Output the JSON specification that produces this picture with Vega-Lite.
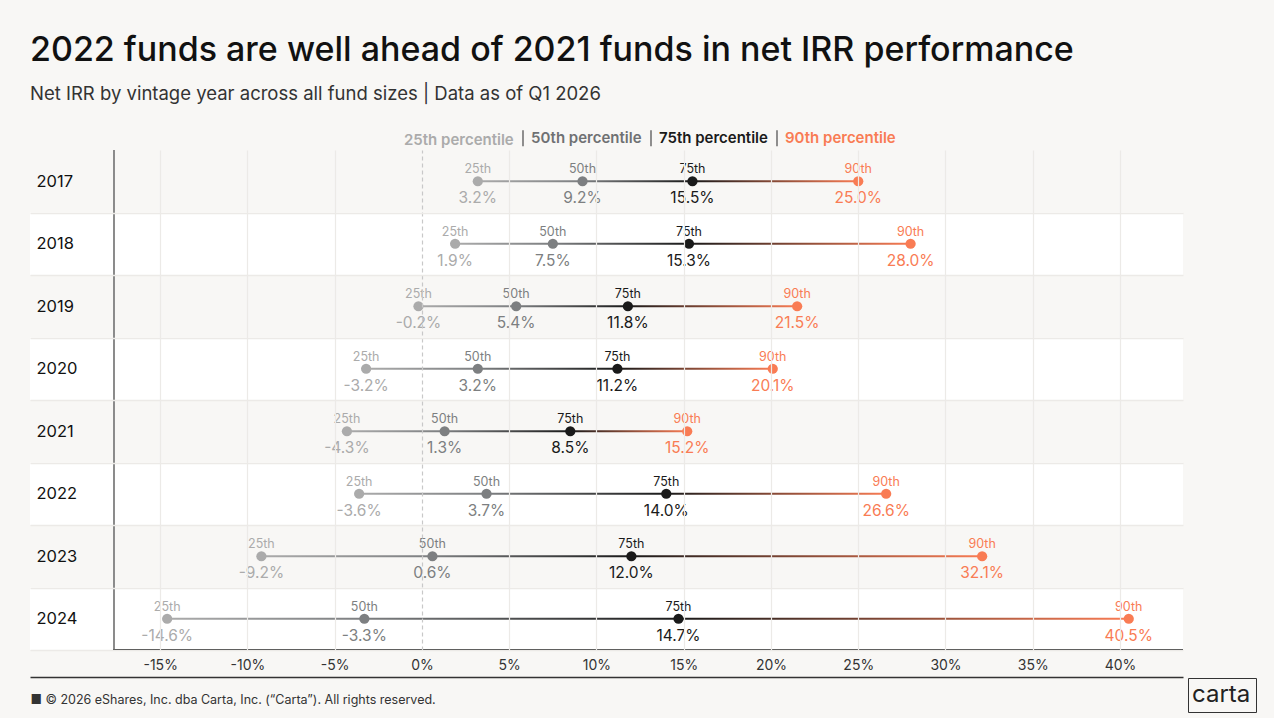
{
  "$schema": "https://vega.github.io/schema/vega-lite/v6.json",
  "autosize": "none",
  "width": 1153,
  "height": 500,
  "padding": {"left": 30, "top": 150, "right": 91, "bottom": 68},
  "background": "#f8f7f5",
  "title": {
    "text": "2022 funds are well ahead of 2021 funds in net IRR performance",
    "subtitle": "Net IRR by vintage year across all fund sizes | Data as of Q1 2026",
    "anchor": "start",
    "frame": "group",
    "font": "Inter",
    "fontSize": 34,
    "fontWeight": 500,
    "color": "#111111",
    "subtitleFont": "Inter",
    "subtitleFontSize": 18.5,
    "subtitleColor": "#333333",
    "subtitlePadding": 17,
    "offset": 26
  },
  "data": {
    "values": [
      {"year": "2017", "pct": "25th", "value": 0.032},
      {"year": "2017", "pct": "50th", "value": 0.092},
      {"year": "2017", "pct": "75th", "value": 0.155},
      {"year": "2017", "pct": "90th", "value": 0.250},
      {"year": "2018", "pct": "25th", "value": 0.019},
      {"year": "2018", "pct": "50th", "value": 0.075},
      {"year": "2018", "pct": "75th", "value": 0.153},
      {"year": "2018", "pct": "90th", "value": 0.280},
      {"year": "2019", "pct": "25th", "value": -0.002},
      {"year": "2019", "pct": "50th", "value": 0.054},
      {"year": "2019", "pct": "75th", "value": 0.118},
      {"year": "2019", "pct": "90th", "value": 0.215},
      {"year": "2020", "pct": "25th", "value": -0.032},
      {"year": "2020", "pct": "50th", "value": 0.032},
      {"year": "2020", "pct": "75th", "value": 0.112},
      {"year": "2020", "pct": "90th", "value": 0.201},
      {"year": "2021", "pct": "25th", "value": -0.043},
      {"year": "2021", "pct": "50th", "value": 0.013},
      {"year": "2021", "pct": "75th", "value": 0.085},
      {"year": "2021", "pct": "90th", "value": 0.152},
      {"year": "2022", "pct": "25th", "value": -0.036},
      {"year": "2022", "pct": "50th", "value": 0.037},
      {"year": "2022", "pct": "75th", "value": 0.140},
      {"year": "2022", "pct": "90th", "value": 0.266},
      {"year": "2023", "pct": "25th", "value": -0.092},
      {"year": "2023", "pct": "50th", "value": 0.006},
      {"year": "2023", "pct": "75th", "value": 0.120},
      {"year": "2023", "pct": "90th", "value": 0.321},
      {"year": "2024", "pct": "25th", "value": -0.146},
      {"year": "2024", "pct": "50th", "value": -0.033},
      {"year": "2024", "pct": "75th", "value": 0.147},
      {"year": "2024", "pct": "90th", "value": 0.405}
    ]
  },
  "layer": [
    {
      "transform": [
        {"filter": "datum.pct === '25th' && toNumber(datum.year) % 2 === 0"}
      ],
      "mark": {"type": "rect", "color": "#ffffff"},
      "encoding": {
        "y": {"field": "year", "type": "nominal"}
      }
    },
    {
      "mark": {"type": "rule", "color": "#8c8c8c", "strokeWidth": 1.2},
      "encoding": {
        "x": {"datum": -0.1765, "type": "quantitative"},
        "strokeDash": {
          "datum": "carta",
          "type": "nominal",
          "scale": {"domain": ["carta"], "range": [[1, 0]]},
          "legend": {
            "orient": "none",
            "legendX": 1158,
            "legendY": 528,
            "title": null,
            "labelFont": "Inter",
            "labelFontSize": 24,
            "labelColor": "#222222",
            "strokeColor": "#333333",
            "padding": 5,
            "symbolSize": 0,
            "symbolOpacity": 0,
            "symbolStrokeWidth": 0,
            "labelOffset": -25
          }
        }
      }
    },
    {
      "mark": {"type": "rule", "color": "#333333", "strokeWidth": 1.2},
      "encoding": {
        "x": {"datum": -0.1765, "type": "quantitative"},
        "x2": {"datum": 0.4361},
        "y": {"datum": "2024", "type": "nominal", "bandPosition": 1}
      }
    },
    {
      "transform": [
        {"pivot": "pct", "value": "value", "groupby": ["year"]}
      ],
      "layer": [
        {
          "mark": {
            "type": "bar",
            "size": 2,
            "fill": {
              "gradient": "linear", "x1": 0, "x2": 1, "y1": 0, "y2": 0,
              "stops": [
                {"offset": 0, "color": "#ababab"},
                {"offset": 1, "color": "#7d7f81"}
              ]
            }
          },
          "encoding": {
            "y": {"field": "year", "type": "nominal"},
            "x": {"field": "25th", "type": "quantitative"},
            "x2": {"field": "50th"}
          }
        },
        {
          "mark": {
            "type": "bar",
            "size": 2,
            "fill": {
              "gradient": "linear", "x1": 0, "x2": 1, "y1": 0, "y2": 0,
              "stops": [
                {"offset": 0, "color": "#7d7f81"},
                {"offset": 1, "color": "#1a1a1a"}
              ]
            }
          },
          "encoding": {
            "y": {"field": "year", "type": "nominal"},
            "x": {"field": "50th", "type": "quantitative"},
            "x2": {"field": "75th"}
          }
        },
        {
          "mark": {
            "type": "bar",
            "size": 2,
            "fill": {
              "gradient": "linear", "x1": 0, "x2": 1, "y1": 0, "y2": 0,
              "stops": [
                {"offset": 0, "color": "#1a1a1a"},
                {"offset": 1, "color": "#f97c54"}
              ]
            }
          },
          "encoding": {
            "y": {"field": "year", "type": "nominal"},
            "x": {"field": "75th", "type": "quantitative"},
            "x2": {"field": "90th"}
          }
        }
      ]
    },
    {
      "mark": {"type": "circle", "size": 105, "opacity": 1},
      "encoding": {
        "y": {
          "field": "year",
          "type": "nominal",
          "scale": {"paddingInner": 0, "paddingOuter": 0},
          "axis": {
            "title": null,
            "domain": false,
            "ticks": false,
            "tickSize": 0,
            "tickBand": "extent",
            "labelAlign": "left",
            "labelPadding": -6,
            "labelFont": "Inter",
            "labelFontSize": 16.5,
            "labelFontWeight": 400,
            "labelColor": "#111111",
            "grid": true,
            "gridColor": "#eceae7",
            "gridOpacity": {"condition": {"test": "datum.extra", "value": 0}, "value": 1},
            "gridWidth": 1.5,
            "zindex": 1
          }
        },
        "x": {
          "field": "value",
          "type": "quantitative",
          "scale": {"domain": [-0.2246, 0.4361], "nice": false, "zero": false},
          "axis": {
            "values": [-0.15, -0.1, -0.05, 0, 0.05, 0.1, 0.15, 0.2, 0.25, 0.3, 0.35, 0.4],
            "format": ".0%",
            "offset": 27,
            "ticks": false,
            "tickSize": 0,
            "labelPadding": -12,
            "labelBaseline": "middle",
            "labelFont": "Inter",
            "labelFontSize": 14,
            "labelColor": "#333333",
            "domainColor": "#333333",
            "domainWidth": 1.3,
            "grid": true,
            "gridColor": {"condition": {"test": "datum.value === 0", "value": "#c8c8c8"}, "value": "#eceae7"},
            "gridDash": {"condition": {"test": "datum.value === 0", "value": [4, 3]}, "value": []},
            "gridWidth": 1.2,
            "zindex": 1,
            "title": "■  © 2026 eShares, Inc. dba Carta, Inc. (“Carta”). All rights reserved.",
            "titleAnchor": "start",
            "titleAlign": "left",
            "titleX": 0,
            "titleY": 22,
            "titleBaseline": "middle",
            "titleFont": "Inter",
            "titleFontSize": 12.5,
            "titleFontWeight": "normal",
            "titleColor": "#333333"
          }
        },
        "color": {
          "field": "pct",
          "type": "nominal",
          "scale": {
            "domain": ["25th", "50th", "75th", "90th"],
            "range": ["#ababab", "#7d7f81", "#1a1a1a", "#f97c54"]
          },
          "legend": {
            "orient": "none",
            "legendX": 357,
            "legendY": -21,
            "direction": "horizontal",
            "title": null,
            "labelExpr": "datum.label + ' percentile'",
            "labelFont": "Inter",
            "labelFontSize": 15,
            "labelFontWeight": 600,
            "labelColor": {"expr": "datum.value === '50th' ? '#6f7173' : scale('color', datum.value)"},
            "columnPadding": 0,
            "labelOffset": -1,
            "symbolType": "M0,-1L0,1",
            "symbolSize": 256,
            "symbolStrokeWidth": 1.3,
            "symbolStrokeColor": "#555555",
            "symbolFillColor": "transparent",
            "symbolOpacity": {"expr": "datum.value === '25th' ? 0 : 1"}
          }
        }
      }
    },
    {
      "mark": {"type": "text", "dy": -12, "fontSize": 12.5, "font": "Inter", "baseline": "middle"},
      "encoding": {
        "y": {"field": "year", "type": "nominal"},
        "x": {"field": "value", "type": "quantitative"},
        "text": {"field": "pct"},
        "color": {"field": "pct", "type": "nominal", "legend": null}
      }
    },
    {
      "mark": {"type": "text", "dy": 17, "fontSize": 15.5, "font": "Inter", "baseline": "middle"},
      "encoding": {
        "y": {"field": "year", "type": "nominal"},
        "x": {"field": "value", "type": "quantitative"},
        "text": {"field": "value", "format": ".1%"},
        "color": {"field": "pct", "type": "nominal", "legend": null}
      }
    }
  ],
  "config": {
    "view": {"stroke": null},
    "font": "Inter",
    "locale": {
      "number": {
        "decimal": ".",
        "thousands": ",",
        "grouping": [3],
        "currency": ["$", ""],
        "minus": "-"
      }
    }
  }
}
